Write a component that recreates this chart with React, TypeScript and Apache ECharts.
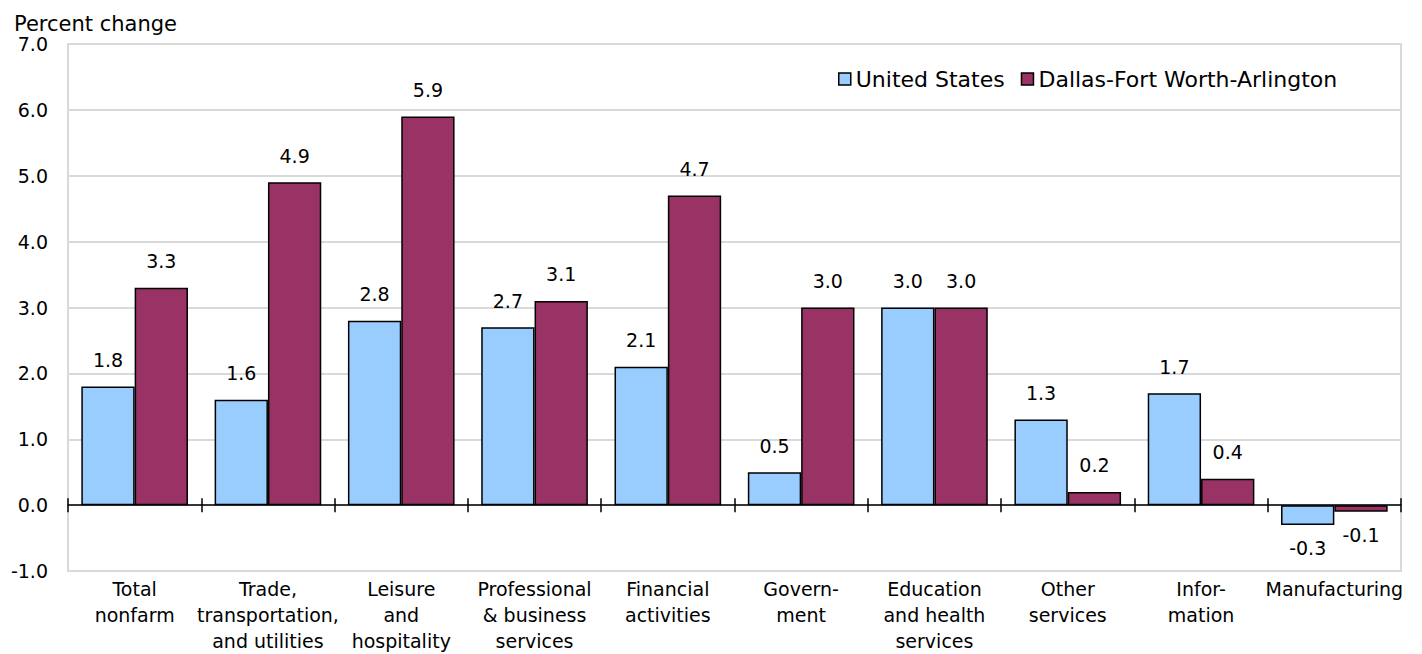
import React, { useEffect, useRef } from "react";
import * as echarts from "echarts";

const categories = [
  "Total\nnonfarm",
  "Trade,\ntransportation,\nand utilities",
  "Leisure\nand\nhospitality",
  "Professional\n& business\nservices",
  "Financial\nactivities",
  "Govern-\nment",
  "Education\nand health\nservices",
  "Other\nservices",
  "Infor-\nmation",
  "Manufacturing",
];
const usValues = [1.8, 1.6, 2.8, 2.7, 2.1, 0.5, 3.0, 1.3, 1.7, -0.3];
const dfwValues = [3.3, 4.9, 5.9, 3.1, 4.7, 3.0, 3.0, 0.2, 0.4, -0.1];
const seriesNames = ["United States", "Dallas-Fort Worth-Arlington"];
const yTicks = { min: -1, max: 7, interval: 1 };

const FONT = "DejaVu Sans";
const FS = 19;

function toItems(vals: number[]) {
  return vals.map((v) => ({
    value: v,
    label: v < 0 ? { position: "bottom", distance: 14 } : { position: "top", distance: 17 },
  }));
}

export default function App() {
  const ref = useRef<HTMLDivElement>(null);
  useEffect(() => {
    const chart = echarts.init(ref.current!, null, { renderer: "svg" });
    const barLabel = {
      show: true,
      color: "#000",
      fontFamily: FONT,
      fontSize: FS,
      formatter: (p: any) => Number(p.value).toFixed(1),
    };
    const hiddenCat = {
      type: "category",
      data: categories,
      axisLabel: { show: false },
      splitLine: { show: false },
    };
    chart.setOption({
      animation: false,
      backgroundColor: "#fff",
      title: {
        text: "Percent change",
        left: 9,
        top: 8,
        textStyle: { fontFamily: FONT, fontSize: 21, fontWeight: "normal", color: "#000" },
      },
      legend: {
        left: 833,
        top: 63,
        itemWidth: 12,
        itemHeight: 12,
        itemGap: 16,
        icon: "rect",
        data: seriesNames,
        textStyle: { fontFamily: FONT, fontSize: 22, color: "#000" },
        itemStyle: { borderColor: "#000", borderWidth: 1.5 },
      },
      grid: {
        left: 68,
        right: 21,
        top: 44,
        bottom: 82,
        show: true,
        borderColor: "#d9d9d9",
        borderWidth: 2,
        containLabel: false,
      },
      xAxis: [
        {
          type: "category",
          data: categories,
          position: "bottom",
          axisLine: { show: false, onZero: false },
          axisTick: { show: false },
          axisLabel: {
            interval: 0,
            margin: 5,
            color: "#000",
            fontFamily: FONT,
            fontSize: FS,
            lineHeight: 26,
            align: "center",
          },
        },
        {
          ...hiddenCat,
          position: "top",
          axisLine: { show: true, onZero: true, onZeroAxisIndex: 0, lineStyle: { color: "#000", width: 1.5 } },
          axisTick: { show: true, inside: false, length: 7, lineStyle: { color: "#000", width: 1.5 } },
        },
        {
          ...hiddenCat,
          position: "bottom",
          axisLine: { show: false, onZero: true, onZeroAxisIndex: 0 },
          axisTick: { show: true, inside: false, length: 7, lineStyle: { color: "#000", width: 1.5 } },
        },
      ],
      yAxis: {
        type: "value",
        min: yTicks.min,
        max: yTicks.max,
        interval: yTicks.interval,
        axisLine: { show: false },
        axisTick: { show: false },
        axisLabel: {
          margin: 20,
          color: "#000",
          fontFamily: FONT,
          fontSize: FS,
          formatter: (v: number) => v.toFixed(1),
        },
        splitLine: { lineStyle: { color: "#d9d9d9", width: 2 } },
      },
      series: [
        {
          name: seriesNames[0],
          type: "bar",
          xAxisIndex: 0,
          data: toItems(usValues),
          barGap: "0%",
          barCategoryGap: "20%",
          itemStyle: { color: "#99CCFF", borderColor: "#000", borderWidth: 1.5 },
          label: barLabel,
        },
        {
          name: seriesNames[1],
          type: "bar",
          xAxisIndex: 0,
          data: toItems(dfwValues),
          barGap: "0%",
          barCategoryGap: "20%",
          itemStyle: { color: "#993366", borderColor: "#000", borderWidth: 1.5 },
          label: barLabel,
        },
      ],
    });
    return () => chart.dispose();
  }, []);
  return (
    <div
      ref={ref}
      style={{ position: "fixed", left: 0, top: 0, width: 1422, height: 654, background: "#fff" }}
    />
  );
}
